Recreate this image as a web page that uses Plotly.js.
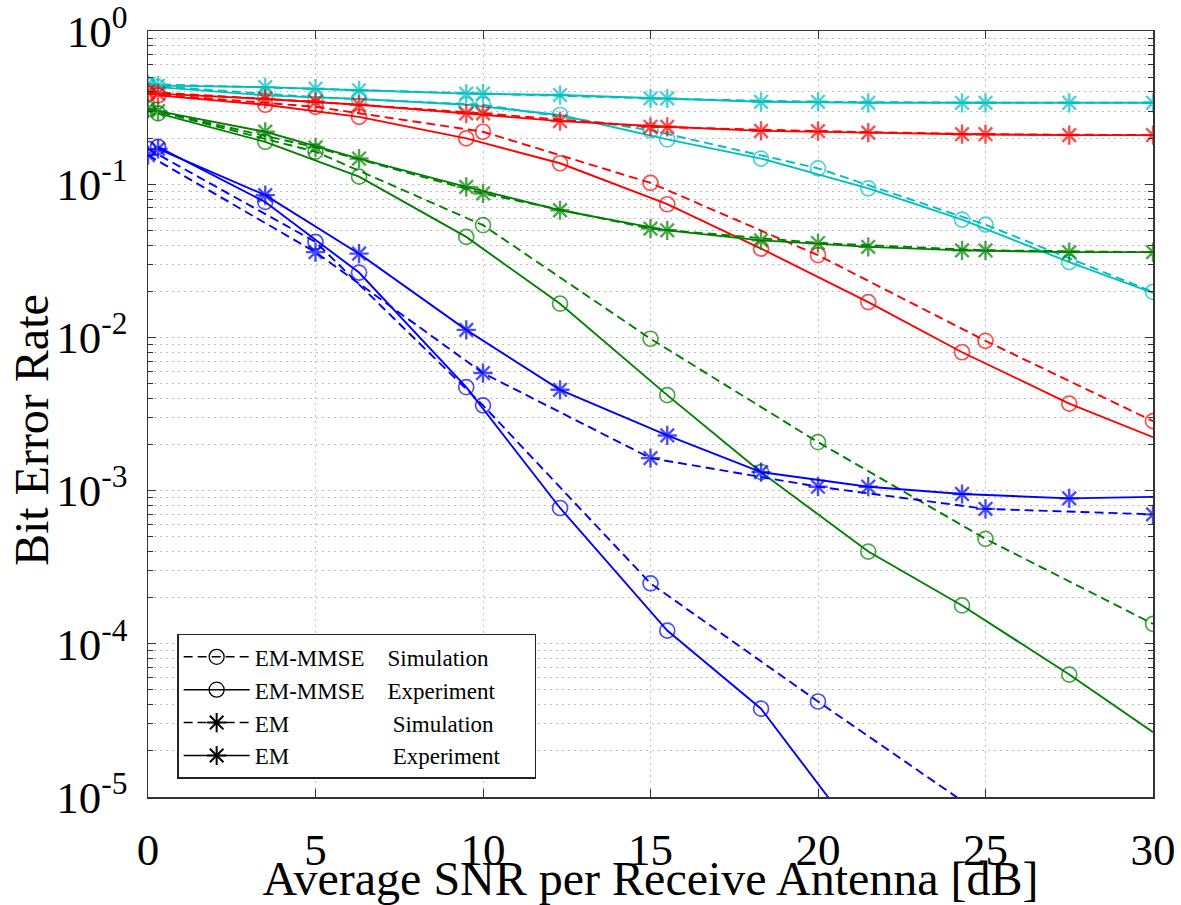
<!DOCTYPE html>
<html>
<head>
<meta charset="utf-8">
<script src="https://cdn.plot.ly/plotly-3.0.1.min.js"></script>
<style>
  html, body { margin: 0; padding: 0; background: #fff; }
  #chart { width: 1181px; height: 905px; }
</style>
</head>
<body>
<div id="chart"></div>
<script>
// SNR grids (dB): simulated curves on a 5 dB grid, measured curves at the test SNRs
const snrSim = [0, 5, 10, 15, 20, 25, 30];
const snrExp = [0.3, 3.5, 6.3, 9.5, 12.3, 15.5, 18.3, 21.5, 24.3, 27.5, 30];

// Blue configuration
const blueMmseSim = [0.17, 0.042, 0.0036, 2.48e-4, 4.2e-5, 7.4e-6];
const blueMmseExp = [0.175, 0.0766, 0.0265, 0.00473, 7.7e-4, 1.22e-4, 3.77e-5, 4.5e-6];
const blueEmSim   = [0.155, 0.036, 0.00585, 0.00163, 0.00106, 7.6e-4, 7.0e-4];
const blueEmExp   = [0.17, 0.0848, 0.0352, 0.0112, 0.00455, 0.00229, 0.00132, 0.00106, 9.5e-4, 8.9e-4, 9.1e-4];

// Green configuration
const greenMmseSim = [0.31, 0.163, 0.054, 0.0098, 0.00207, 4.84e-4, 1.35e-4];
const greenMmseExp = [0.29, 0.189, 0.112, 0.0453, 0.0166, 0.0042, 0.00132, 4.0e-4, 1.78e-4, 6.3e-5, 2.65e-5];
const greenEmSim   = [0.31, 0.174, 0.087, 0.0513, 0.0413, 0.037, 0.036];
const greenEmExp   = [0.30, 0.22, 0.147, 0.096, 0.0676, 0.05, 0.043, 0.039, 0.037, 0.036, 0.036];

// Red configuration
const redMmseSim = [0.39, 0.32, 0.22, 0.102, 0.0344, 0.0095, 0.00284];
const redMmseExp = [0.38, 0.33, 0.275, 0.199, 0.137, 0.074, 0.038, 0.017, 0.008, 0.0037, 0.00223];
const redEmSim   = [0.40, 0.345, 0.29, 0.237, 0.222, 0.212, 0.209];
const redEmExp   = [0.39, 0.36, 0.33, 0.29, 0.258, 0.237, 0.223, 0.217, 0.212, 0.209, 0.209];

// Cyan configuration
const cyanMmseSim = [0.44, 0.37, 0.33, 0.225, 0.127, 0.0545, 0.0198];
const cyanMmseExp = [0.43, 0.38, 0.36, 0.33, 0.283, 0.196, 0.147, 0.094, 0.0588, 0.031, 0.0195];
const cyanEmSim   = [0.45, 0.42, 0.39, 0.363, 0.345, 0.34, 0.34];
const cyanEmExp   = [0.44, 0.43, 0.41, 0.39, 0.382, 0.363, 0.345, 0.34, 0.34, 0.34, 0.34];

// Axis ticks
const xTicks = [0, 5, 10, 15, 20, 25, 30];
const yTickVals = [1, 0.1, 0.01, 0.001, 0.0001, 0.00001];
const yTickText = ['10<sup>0</sup>', '10<sup>-1</sup>', '10<sup>-2</sup>', '10<sup>-3</sup>', '10<sup>-4</sup>', '10<sup>-5</sup>'];

// Legend labels (two columns padded with no-break spaces)
const NB = n => '\u00a0'.repeat(n);
const legendNames = [
  'EM-MMSE' + NB(4) + 'Simulation' + NB(6),
  'EM-MMSE' + NB(4) + 'Experiment' + NB(5),
  'EM' + NB(18) + 'Simulation' + NB(6),
  'EM' + NB(18) + 'Experiment' + NB(5)
];

const COLORS = { blue: '#0000ff', green: '#008000', red: '#ff0000', cyan: '#00bfbf' };
const DASH = '9px,5px';

// line/marker style per curve kind
const KIND = {
  mmseSim: { dash: DASH, symbol: 'circle-open', size: 15, mw: 1.7, grid: snrSim, measured: false },
  mmseExp: { dash: 'solid', symbol: 'circle-open', size: 15, mw: 1.7, grid: snrExp, measured: true },
  emSim:   { dash: DASH, symbol: 'asterisk-open', size: 16, mw: 2.4, grid: snrSim, measured: false },
  emExp:   { dash: 'solid', symbol: 'asterisk-open', size: 16, mw: 2.4, grid: snrExp, measured: true }
};

function curve(values, kind, color) {
  const k = KIND[kind];
  const x = k.grid.slice(0, values.length);
  // measured curves run on to the 30 dB edge without a marker there
  const sizes = x.map(v => (k.measured && v === 30) ? 0 : k.size);
  return {
    type: 'scatter', mode: 'lines+markers', x: x, y: values, showlegend: false,
    line: { color: color, width: 1.9, dash: k.dash },
    marker: { symbol: k.symbol, size: sizes, color: color, line: { color: color, width: k.mw } },
    hoverinfo: 'x+y'
  };
}

const traces = [
  curve(cyanMmseSim, 'mmseSim', COLORS.cyan),
  curve(cyanMmseExp, 'mmseExp', COLORS.cyan),
  curve(cyanEmSim, 'emSim', COLORS.cyan),
  curve(cyanEmExp, 'emExp', COLORS.cyan),
  curve(redMmseSim, 'mmseSim', COLORS.red),
  curve(redMmseExp, 'mmseExp', COLORS.red),
  curve(redEmSim, 'emSim', COLORS.red),
  curve(redEmExp, 'emExp', COLORS.red),
  curve(greenMmseSim, 'mmseSim', COLORS.green),
  curve(greenMmseExp, 'mmseExp', COLORS.green),
  curve(greenEmSim, 'emSim', COLORS.green),
  curve(greenEmExp, 'emExp', COLORS.green),
  curve(blueMmseSim, 'mmseSim', COLORS.blue),
  curve(blueMmseExp, 'mmseExp', COLORS.blue),
  curve(blueEmSim, 'emSim', COLORS.blue),
  curve(blueEmExp, 'emExp', COLORS.blue)
];

// black legend keys, one per curve kind
['mmseSim', 'mmseExp', 'emSim', 'emExp'].forEach((kind, i) => {
  const k = KIND[kind];
  traces.push({
    type: 'scatter', mode: 'lines+markers', x: [null], y: [null],
    name: legendNames[i], showlegend: true,
    line: { color: '#000', width: 1.5, dash: k.dash },
    marker: { symbol: k.symbol, size: k.size, color: '#000', line: { color: '#000', width: k.mw - 0.4 } }
  });
});

// minor log ticks 2..9 within each decade
const minorVals = [];
for (let d = -5; d < 0; d++) {
  for (let m = 2; m <= 9; m++) minorVals.push(m * Math.pow(10, d));
}

const SERIF = '"Liberation Serif", "Times New Roman", Times, serif';
const GRID = '#c0c0c0';
const GRID_DASH = '2px,4px';
const AXIS = '#333';

const layout = {
  width: 1181, height: 905,
  margin: { l: 148, r: 28, t: 31, b: 108 },
  paper_bgcolor: '#fff', plot_bgcolor: '#fff',
  font: { family: SERIF, color: '#000', size: 45 },
  showlegend: true,
  xaxis: {
    range: [0, 30], tickvals: xTicks, ticktext: xTicks.map(String),
    showline: true, linecolor: AXIS, linewidth: 1.5, mirror: 'ticks',
    ticks: 'inside', ticklen: 8, tickcolor: AXIS, tickwidth: 1,
    showgrid: true, gridcolor: GRID, griddash: GRID_DASH, gridwidth: 1,
    zeroline: false,
    tickfont: { family: SERIF, size: 45, color: '#000' },
    ticklabelstandoff: 12,
    ticklabeloverflow: 'allow',
    title: { text: 'Average SNR per Receive Antenna [dB]', font: { family: SERIF, size: 48, color: '#000' }, standoff: 0 }
  },
  yaxis: {
    type: 'log', range: [-5, 0],
    tickvals: yTickVals, ticktext: yTickText,
    showline: true, linecolor: AXIS, linewidth: 1.5, mirror: 'ticks',
    ticks: 'inside', ticklen: 8, tickcolor: AXIS, tickwidth: 1,
    showgrid: true, gridcolor: GRID, griddash: GRID_DASH, gridwidth: 1,
    zeroline: false,
    tickfont: { family: SERIF, size: 45, color: '#000' },
    ticklabelstandoff: 10,
    ticklabeloverflow: 'allow',
    minor: {
      tickvals: minorVals, ticks: 'inside', ticklen: 5, tickcolor: AXIS,
      showgrid: true, gridcolor: GRID, griddash: GRID_DASH, gridwidth: 1
    }
  },
  annotations: [{
    text: 'Bit Error Rate', textangle: -90, showarrow: false,
    xref: 'paper', yref: 'paper', x: -0.1164, y: 0.479,
    xanchor: 'center', yanchor: 'middle',
    font: { family: SERIF, size: 48, color: '#000' }
  }],
  legend: {
    x: 0.029, y: 0.213, xanchor: 'left', yanchor: 'top',
    bgcolor: '#fff', bordercolor: '#222', borderwidth: 1.5,
    font: { family: SERIF, size: 23, color: '#000' },
    itemwidth: 66,
    tracegroupgap: 0
  }
};

Plotly.newPlot('chart', traces, layout, { displayModeBar: false, staticPlot: true });
</script>
</body>
</html>
